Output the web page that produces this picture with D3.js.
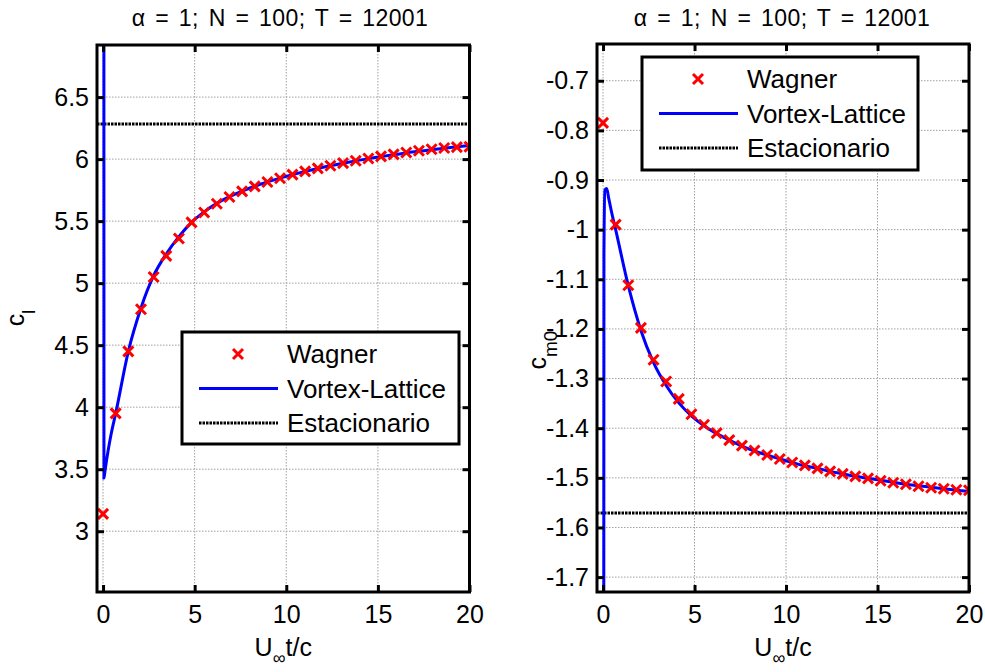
<!DOCTYPE html>
<html>
<head>
<meta charset="utf-8">
<script src="https://cdn.jsdelivr.net/npm/d3@7"></script>
<style>
    body { margin: 0; background: #fff; }
    svg { display: block; font-family: "Liberation Sans", Arial, sans-serif; }
</style>
</head>
<body>
<svg id="chart" width="985" height="672"></svg>
<script>
// Wagner markers (U t / c)
const tWagner = [0, 0.69, 1.38, 2.07, 2.76, 3.45, 4.14, 4.83, 5.52, 6.21, 6.9, 7.59, 8.28, 8.97, 9.66,
    10.34, 11.03, 11.72, 12.41, 13.1, 13.79, 14.48, 15.17, 15.86, 16.55, 17.24, 17.93, 18.62, 19.31, 20];
const clWagner = [3.14, 3.95, 4.45, 4.79, 5.05, 5.22, 5.36, 5.49, 5.57, 5.64, 5.695, 5.74, 5.78, 5.815, 5.846,
    5.875, 5.901, 5.925, 5.947, 5.968, 5.987, 6.005, 6.022, 6.038, 6.053, 6.067, 6.08, 6.09, 6.097, 6.1];
const cmWagner = [-0.785, -0.99, -1.112, -1.198, -1.262, -1.306, -1.341, -1.372, -1.393, -1.41, -1.424, -1.435, -1.445, -1.454, -1.462,
    -1.469, -1.475, -1.481, -1.487, -1.492, -1.497, -1.501, -1.506, -1.51, -1.513, -1.517, -1.52, -1.522, -1.524, -1.525];

// Vortex-Lattice solution
const tVL = [0, 0.05, 0.1, 0.2, 0.3, 0.45, 0.69, 1.38, 2.07, 2.76, 3.45, 4.14, 4.83, 5.52, 6.21, 6.9, 7.59, 8.28, 8.97, 9.66,
    10.34, 11.03, 11.72, 12.41, 13.1, 13.79, 14.48, 15.17, 15.86, 16.55, 17.24, 17.93, 18.62, 19.31, 20];
const clVL = [60, 3.43, 3.48, 3.58, 3.67, 3.79, 3.95, 4.45, 4.8, 5.06, 5.235, 5.375, 5.49, 5.575, 5.643, 5.697, 5.742, 5.781, 5.816, 5.847,
    5.875, 5.901, 5.925, 5.947, 5.967, 5.986, 6.004, 6.02, 6.035, 6.05, 6.063, 6.076, 6.088, 6.099, 6.11];
const cmVL = [-5, -1.05, -0.92, -0.917, -0.935, -0.962, -1.0, -1.113, -1.203, -1.268, -1.314, -1.349, -1.375, -1.395, -1.411, -1.424,
    -1.436, -1.446, -1.454, -1.462, -1.469, -1.476, -1.481, -1.487, -1.492, -1.497, -1.501, -1.505, -1.509, -1.513, -1.516, -1.519,
    -1.522, -1.525, -1.527];

// steady values
const clStationary = 6.2832;
const cmStationary = -1.5708;

const xTicks = [0, 5, 10, 15, 20];
const clTicks = [3, 3.5, 4, 4.5, 5, 5.5, 6, 6.5];
const cmTicks = [-1.7, -1.6, -1.5, -1.4, -1.3, -1.2, -1.1, -1, -0.9, -0.8, -0.7];
const legendLabels = ["Wagner", "Vortex-Lattice", "Estacionario"];
const titleText = "\u03b1 = 1; N = 100; T = 12001";

const svg = d3.select("#chart");
svg.append("rect").attr("width", 985).attr("height", 672).attr("fill", "#fff");

const fmt = d => String(+d.toFixed(2));

function drawPanel(cfg) {
    const x = d3.scaleLinear().domain([-0.33, 20]).range([cfg.left, cfg.right]);
    const y = d3.scaleLinear().domain(cfg.yDomain).range([cfg.bottom, cfg.top]);
    const w = cfg.right - cfg.left;
    const h = cfg.bottom - cfg.top;

    const g = svg.append("g");

    // grid
    const grid = g.append("g")
        .attr("stroke", "#a0a0a0")
        .attr("stroke-width", 1)
        .attr("stroke-dasharray", "1.5,1.5");
    grid.selectAll("line.gx").data(xTicks).join("line")
        .attr("x1", d => x(d)).attr("x2", d => x(d))
        .attr("y1", cfg.top).attr("y2", cfg.bottom);
    grid.selectAll("line.gy").data(cfg.yTicks).join("line")
        .attr("class", "gy")
        .attr("x1", cfg.left).attr("x2", cfg.right)
        .attr("y1", d => y(d)).attr("y2", d => y(d));

    const clipId = "clip-" + cfg.id;
    svg.append("clipPath").attr("id", clipId)
        .append("rect")
        .attr("x", cfg.left).attr("y", cfg.top)
        .attr("width", w).attr("height", h);

    const plot = g.append("g").attr("clip-path", `url(#${clipId})`);

    // stationary value
    plot.append("line")
        .attr("x1", x(-0.33)).attr("x2", x(20))
        .attr("y1", y(cfg.stationary)).attr("y2", y(cfg.stationary))
        .attr("stroke", "#000")
        .attr("stroke-width", 3)
        .attr("stroke-dasharray", "2.5,1");

    // vortex lattice
    const line = d3.line()
        .x((d, i) => x(tVL[i]))
        .y(d => y(d))
        .curve(d3.curveMonotoneX);
    plot.append("path")
        .datum(cfg.vl)
        .attr("d", line)
        .attr("fill", "none")
        .attr("stroke", "#0000ff")
        .attr("stroke-width", 3);

    // wagner markers
    plot.selectAll("path.wag").data(cfg.wagner).join("path")
        .attr("class", "wag")
        .attr("transform", (d, i) => `translate(${x(tWagner[i])},${y(d)})`)
        .attr("d", "M-5,-5L5,5M-5,5L5,-5")
        .attr("stroke", "#ff0000")
        .attr("stroke-width", 3)
        .attr("fill", "none");

    // axes
    const styleAxis = sel => {
        sel.select(".domain").remove();
        sel.selectAll(".tick line").attr("stroke", "#000").attr("stroke-width", 3);
        sel.selectAll(".tick text").attr("fill", "#000").style("font-size", "25px");
    };

    g.append("g")
        .attr("transform", `translate(0,${cfg.bottom})`)
        .call(d3.axisBottom(x).tickValues(xTicks).tickFormat(fmt).tickSizeInner(-7).tickSizeOuter(0).tickPadding(13))
        .call(styleAxis)
        .attr("font-family", null);
    g.append("g")
        .attr("transform", `translate(0,${cfg.top})`)
        .call(d3.axisTop(x).tickValues(xTicks).tickFormat("").tickSizeInner(-7).tickSizeOuter(0))
        .call(styleAxis);
    g.append("g")
        .attr("transform", `translate(${cfg.left},0)`)
        .call(d3.axisLeft(y).tickValues(cfg.yTicks).tickFormat(fmt).tickSizeInner(-7).tickSizeOuter(0).tickPadding(8))
        .call(styleAxis)
        .attr("font-family", null);
    g.append("g")
        .attr("transform", `translate(${cfg.right},0)`)
        .call(d3.axisRight(y).tickValues(cfg.yTicks).tickFormat("").tickSizeInner(-7).tickSizeOuter(0))
        .call(styleAxis);

    // frame
    g.append("rect")
        .attr("x", cfg.left).attr("y", cfg.top)
        .attr("width", w).attr("height", h)
        .attr("fill", "none")
        .attr("stroke", "#000")
        .attr("stroke-width", 3);

    // legend
    const lg = g.append("g").attr("transform", `translate(${cfg.legend.x},${cfg.legend.y})`);
    lg.append("rect")
        .attr("width", cfg.legend.w).attr("height", cfg.legend.h)
        .attr("fill", "#fff")
        .attr("stroke", "#000")
        .attr("stroke-width", 3);
    legendLabels.forEach((label, i) => {
        const base = 31 + 34.5 * i;
        const cy = base - 9;
        if (i === 0) {
            lg.append("path")
                .attr("transform", `translate(56,${cy})`)
                .attr("d", "M-5,-5L5,5M-5,5L5,-5")
                .attr("stroke", "#ff0000")
                .attr("stroke-width", 3);
        } else {
            lg.append("line")
                .attr("x1", 17).attr("x2", 96)
                .attr("y1", cy).attr("y2", cy)
                .attr("stroke", i === 1 ? "#0000ff" : "#000")
                .attr("stroke-width", 3)
                .attr("stroke-dasharray", i === 1 ? null : "2.5,1");
        }
        lg.append("text")
            .attr("x", 105)
            .attr("y", base)
            .style("font-size", "26px")
            .text(label);
    });

    // title
    g.append("text")
        .attr("x", cfg.titleX)
        .attr("y", 26)
        .attr("text-anchor", "middle")
        .style("font-size", "23px")
        .style("letter-spacing", "0.4px")
        .style("word-spacing", "3px")
        .text(titleText);

    // x label
    const xl = g.append("text")
        .attr("x", (cfg.left + cfg.right) / 2)
        .attr("y", 656)
        .attr("text-anchor", "middle")
        .style("font-size", "25px");
    xl.append("tspan").text("U");
    xl.append("tspan").attr("dy", 8).style("font-size", "18px").text("\u221e");
    xl.append("tspan").attr("dy", -8).text("t/c");

    // y label
    const yl = g.append("text")
        .attr("transform", `translate(${cfg.ylabelX},${cfg.ylabelY}) rotate(-90)`)
        .attr("text-anchor", "middle")
        .style("font-size", "25px");
    yl.append("tspan").text("c");
    yl.append("tspan").attr("dy", 11).style("font-size", "19px").text(cfg.ylabelSub);
}

drawPanel({
    id: "cl",
    left: 97, right: 469.5, top: 45, bottom: 592,
    yDomain: [2.51, 6.92],
    yTicks: clTicks,
    stationary: clStationary,
    vl: clVL,
    wagner: clWagner,
    legend: {x: 182, y: 332, w: 277, h: 112},
    titleX: 280,
    ylabelX: 24, ylabelY: 318,
    ylabelSub: "l"
});

drawPanel({
    id: "cm",
    left: 597, right: 969, top: 44, bottom: 592,
    yDomain: [-1.73, -0.626],
    yTicks: cmTicks,
    stationary: cmStationary,
    vl: cmVL,
    wagner: cmWagner,
    legend: {x: 642, y: 57, w: 276, h: 113},
    titleX: 782,
    ylabelX: 546, ylabelY: 350,
    ylabelSub: "m0"
});
</script>
</body>
</html>
